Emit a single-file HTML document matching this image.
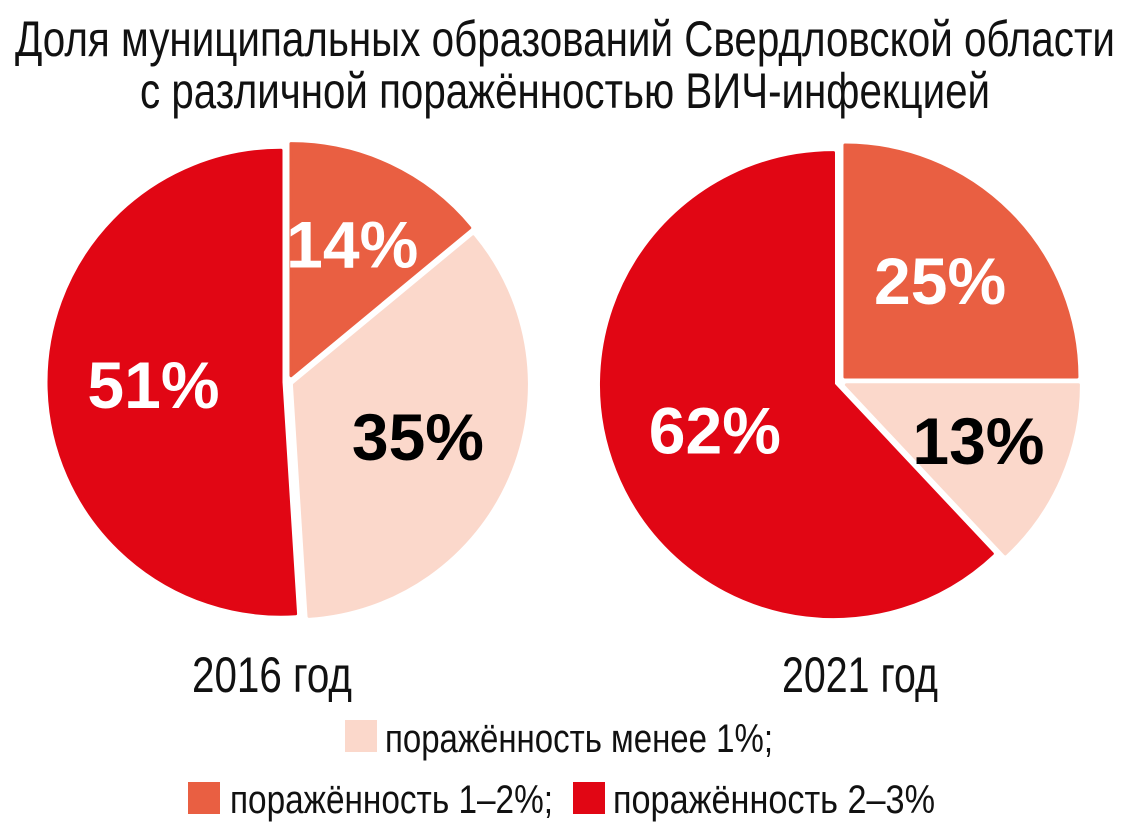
<!DOCTYPE html>
<html><head><meta charset="utf-8">
<style>
html,body{margin:0;padding:0;background:#fff;}
svg{display:block;}
text{font-family:"Liberation Sans Narrow","Liberation Sans",sans-serif;}
</style></head>
<body>
<svg id="chart" width="1131" height="827" viewBox="0 0 1131 827">
<text x="565" y="56" text-anchor="middle" font-size="50" textLength="1100" lengthAdjust="spacingAndGlyphs" fill="#111">Доля муниципальных образований Свердловской области</text>
<text x="565" y="108" text-anchor="middle" font-size="50" textLength="850" lengthAdjust="spacingAndGlyphs" fill="#111">с различной поражённостью ВИЧ-инфекцией</text>
<g id="pies"></g>
<text x="272" y="692" text-anchor="middle" font-size="50" textLength="160" lengthAdjust="spacingAndGlyphs" fill="#111">2016 год</text>
<text x="860" y="692" text-anchor="middle" font-size="50" textLength="156" lengthAdjust="spacingAndGlyphs" fill="#111">2021 год</text>
<g>
<rect x="345" y="720" width="32" height="32" fill="#fbd8cb"/>
<text x="385" y="752" font-size="40" textLength="388" lengthAdjust="spacingAndGlyphs" fill="#111">поражённость менее 1%;</text>
<rect x="188" y="782" width="32" height="32" fill="#e95f42"/>
<text x="230" y="813" font-size="40" textLength="323" lengthAdjust="spacingAndGlyphs" fill="#111">поражённость 1–2%;</text>
<rect x="573" y="782" width="32" height="32" fill="#e10614"/>
<text x="613" y="813" font-size="40" textLength="322" lengthAdjust="spacingAndGlyphs" fill="#111">поражённость 2–3%</text>
</g>
</svg>
<script>
const years = ["2016", "2021"];
const categories = ["1–2%", "менее 1%", "2–3%"];
const values2016 = [14, 35, 51];
const values2021 = [25, 13, 62];
const seriesValues = [values2016, values2021];

const colors = ["#e95f42", "#fbd8cb", "#e10614"];
const labelColors = ["#fff", "#000", "#fff"];
const centers = [[288, 382], [840, 382]];
const R = 232, explode = 7;
const NS = "http://www.w3.org/2000/svg";
const g = document.getElementById("pies");

function pt(cx, cy, r, a){ const t = a*Math.PI/180; return [cx + r*Math.sin(t), cy - r*Math.cos(t)]; }

seriesValues.forEach((vals, pi) => {
  const total = vals.reduce((s,v)=>s+v,0);
  let start = 0;
  vals.forEach((v, i) => {
    const sweep = v/total*360, end = start + sweep, mid = start + sweep/2;
    const [ox, oy] = pt(0, 0, explode, mid);
    const cx = centers[pi][0] + ox, cy = centers[pi][1] + oy;
    const p1 = pt(cx, cy, R, start), p2 = pt(cx, cy, R, end);
    const path = document.createElementNS(NS, "path");
    path.setAttribute("d", `M${cx},${cy} L${p1[0]},${p1[1]} A${R},${R} 0 ${sweep>180?1:0} 1 ${p2[0]},${p2[1]} Z`);
    path.setAttribute("fill", colors[i]);
    path.setAttribute("stroke", colors[i]);
    path.setAttribute("stroke-width", "3");
    path.setAttribute("stroke-linejoin", "round");
    
    
    g.appendChild(path);
    const lr = sweep > 180 ? R*0.55 : (sweep < 60 ? R*0.62 : R*0.58);
    const [lx, ly] = pt(cx, cy, lr, mid);
    const t = document.createElementNS(NS, "text");
    t.setAttribute("x", lx);
    t.setAttribute("y", ly + 22);
    t.setAttribute("text-anchor", "middle");
    t.setAttribute("font-size", "66");
    t.setAttribute("font-weight", "bold");
    t.setAttribute("fill", labelColors[i]);
    
    
    t.textContent = v + "%";
    g.appendChild(t);
    start = end;
  });
});
</script>
</body></html>
